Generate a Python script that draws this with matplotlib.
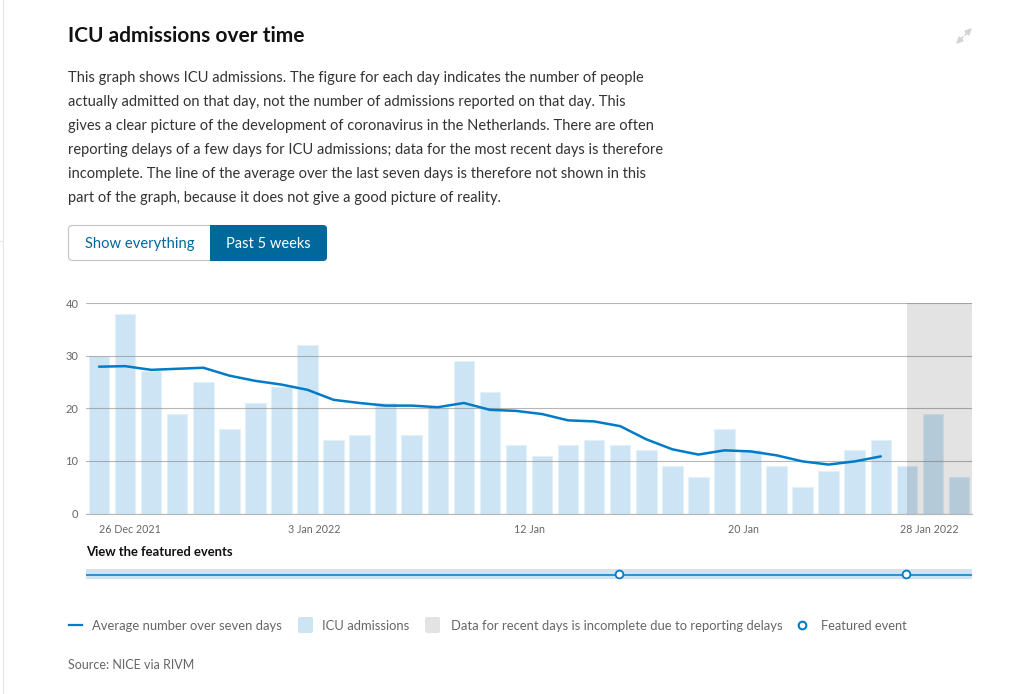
import matplotlib
matplotlib.use('Agg')
import matplotlib.pyplot as plt
from matplotlib.patches import FancyBboxPatch, Rectangle

plt.rcParams['font.family'] = ['Lato', 'DejaVu Sans']

# daily ICU admissions, 26 Dec 2021 - 28 Jan 2022
admissions = [30, 38, 27, 19, 25, 16, 21, 24, 32, 14, 15, 21, 15, 20, 29, 23, 13,
              11, 13, 14, 13, 12, 9, 7, 16, 12, 9, 5, 8, 12, 14, 9, 19, 7]
# seven day average stops before the incomplete days
average = [27.9, 28.0, 27.3, 27.5, 27.7, 26.2, 25.2, 24.5, 23.5, 21.6, 21.0, 20.5,
           20.5, 20.2, 21.0, 19.7, 19.5, 18.9, 17.7, 17.5, 16.6, 14.1, 12.2, 11.2,
           12.0, 11.8, 11.05, 9.9, 9.3, 9.9, 10.85]
days = list(range(len(admissions)))
avg_days = days[:len(average)]
event_days = [19.95, 30.95]
yticks = [0, 10, 20, 30, 40]
xtick_pos = [0, 8.25, 16.5, 24.75, 33]
xtick_labels = ['26 Dec 2021', '3 Jan 2022', '12 Jan', '20 Jan', '28 Jan 2022']

intro = [
    'This graph shows ICU admissions. The figure for each day indicates the number of people',
    'actually admitted on that day, not the number of admissions reported on that day. This',
    'gives a clear picture of the development of coronavirus in the Netherlands. There are often',
    'reporting delays of a few days for ICU admissions; data for the most recent days is therefore',
    'incomplete. The line of the average over the last seven days is therefore not shown in this',
    'part of the graph, because it does not give a good picture of reality.',
]

W, H = 1010, 694
BLUE = '#007bc7'
BAR = '#cce4f4'
TXT = '#333333'
GREY = '#666666'


def box(x0, y0, x1, y1):
    # pixel box (from the top left) to figure fractions
    return [x0 / W, 1 - y1 / H, (x1 - x0) / W, (y1 - y0) / H]


fig = plt.figure(figsize=(W / 100, H / 100), dpi=100, facecolor='white')

# page furniture in pixel coordinates
page = fig.add_axes([0, 0, 1, 1])
page.set_xlim(0, W)
page.set_ylim(H, 0)
page.axis('off')

page.plot([3, 3], [0, H], color='#e6e6e6', lw=0.75)
page.plot([0, 3], [241, 241], color='#e6e6e6', lw=0.75)

page.text(68, 36, 'ICU admissions over time', fontsize=15.0, fontweight='bold',
          color='#111111', va='center')
for i, line in enumerate(intro):
    page.text(68, 78 + i * 24, line, fontsize=10.55, color=TXT, va='center')

# expand icon
for a, b in [((965, 35), (972, 28)), ((963, 37), (956, 44))]:
    page.annotate('', xy=b, xytext=a,
                  arrowprops=dict(arrowstyle='-|>', color='#d4d4d4', lw=1.3,
                                  mutation_scale=9, shrinkA=0, shrinkB=0))

# toggle buttons
page.add_patch(FancyBboxPatch((68.5, 225.5), 258, 35, boxstyle='round,pad=0,rounding_size=4',
                              fc='white', ec='#c4c4c4', lw=0.8))
active = FancyBboxPatch((68, 225), 259, 36, boxstyle='round,pad=0,rounding_size=4',
                        fc='#01689b', ec='none')
page.add_patch(active)
active.set_clip_path(Rectangle((210, 220), 125, 46, transform=page.transData))
page.text(139.5, 244, 'Show everything', fontsize=10.6, color='#01689b', ha='center', va='center')
page.text(268, 244, 'Past 5 weeks', fontsize=10.5, color='white', ha='center', va='center')

page.text(86, 552, 'View the featured events', fontsize=9.4, fontweight='bold',
          color='#111111', va='center')

# legend
page.plot([69, 82], [625, 625], color=BLUE, lw=1.6)
page.text(92.5, 626, 'Average number over seven days', fontsize=9.35, color=GREY, va='center')
page.add_patch(FancyBboxPatch((298, 617), 15, 16, boxstyle='round,pad=0,rounding_size=2',
                              fc=BAR, ec='none'))
page.text(322, 626, 'ICU admissions', fontsize=9.35, color=GREY, va='center')
page.add_patch(FancyBboxPatch((425, 617), 15, 16, boxstyle='round,pad=0,rounding_size=2',
                              fc='#e3e3e3', ec='none'))
page.text(451, 626, 'Data for recent days is incomplete due to reporting delays', fontsize=9.35,
          color=GREY, va='center')
page.plot([802], [625], 'o', ms=5.5, mfc='white', mec=BLUE, mew=1.5)
page.text(821, 626, 'Featured event', fontsize=9.3, color=GREY, va='center')
page.text(68, 665, 'Source: NICE via RIVM', fontsize=9.0, color=GREY, va='center')

# main chart
ax = fig.add_axes(box(86, 303, 972, 513.5))
ax.patch.set_alpha(0)
ax.bar(days, admissions, width=0.79, color=BAR, edgecolor='#e2f0f9', linewidth=0.8, zorder=1)
ax.set_axisbelow(False)
ax.yaxis.grid(True, color='#8f8f8f', alpha=0.65, lw=0.8, zorder=2)
ax.axvspan(31.0, 33.5, color='black', alpha=0.11, lw=0, zorder=3)
ax.plot(avg_days, average, color=BLUE, lw=1.8, zorder=4, solid_capstyle='round')
ax.set_xlim(-0.5, 33.5)
ax.set_ylim(0, 40)
ax.set_yticks(yticks)
ax.set_xticks(xtick_pos)
ax.set_xticklabels(xtick_labels)
ax.tick_params(axis='y', length=0, labelsize=8.0, labelcolor=GREY, pad=5.5)
ax.tick_params(axis='x', length=0, labelsize=7.7, labelcolor=GREY, pad=7.5)
labels = ax.get_xticklabels()
labels[0].set_ha('left')
labels[-1].set_ha('right')
for side in ['top', 'left', 'right']:
    ax.spines[side].set_visible(False)
ax.spines['bottom'].set_color('#b5b5b5')
ax.spines['bottom'].set_linewidth(0.8)

# featured events strip
strip = fig.add_axes(box(86, 569, 972, 579))
strip.set_facecolor(BAR)
strip.set_xlim(-0.5, 33.5)
strip.set_ylim(-1, 1)
strip.set_xticks([])
strip.set_yticks([])
for s in strip.spines.values():
    s.set_visible(False)
strip.axhline(-0.1, color=BLUE, lw=1.1)
strip.plot(event_days, [0] * len(event_days), 'o', ms=5.6, mfc='white', mec=BLUE, mew=1.3,
           clip_on=False, zorder=5)

fig.savefig('out.png', dpi=100)
